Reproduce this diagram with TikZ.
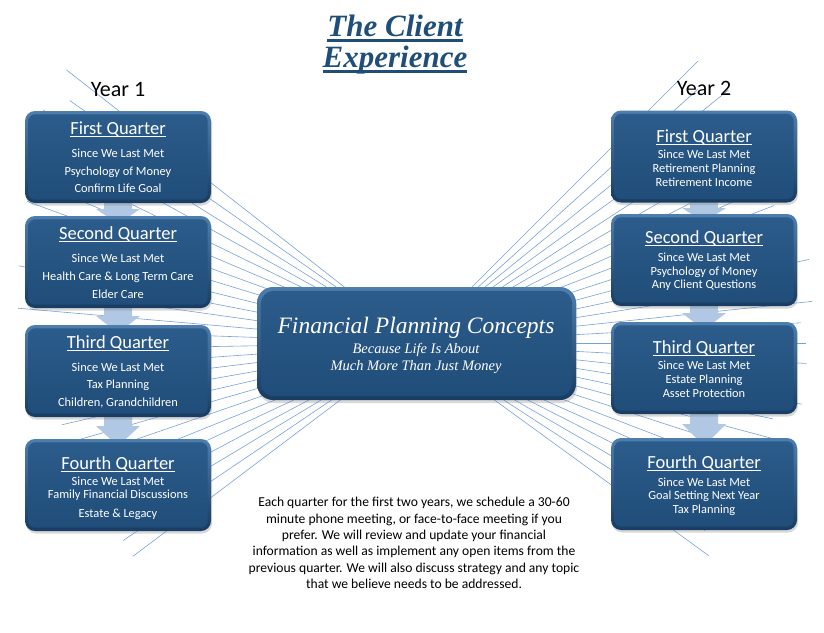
\documentclass[tikz,border=0pt]{standalone}
\usepackage{fontspec}
\setmainfont{Carlito}
\newfontfamily\serifface{Liberation Serif}
\usetikzlibrary{shadows,calc}
\definecolor{titleblue}{RGB}{31,78,121}
\definecolor{rayblue}{RGB}{120,162,214}
\definecolor{rimtop}{RGB}{78,126,174}
\definecolor{rimbot}{RGB}{24,60,98}
\definecolor{facetop}{RGB}{44,92,139}
\definecolor{facebot}{RGB}{32,77,121}
\definecolor{arrowblue}{RGB}{176,200,228}
\newcommand\hul[1]{\setbox0=\hbox{#1}\leavevmode\rlap{\rule[-3pt]{\wd0}{0.8pt}}\box0}
\newcommand\tul[1]{\setbox0=\hbox{#1}\leavevmode\rlap{\rule[-6pt]{\wd0}{2.7pt}}\box0}
\tikzset{
  qbox/.style={rounded corners=10pt, minimum width=186pt, minimum height=92pt, inner sep=0pt,
    top color=rimtop, bottom color=rimbot,
    drop shadow={opacity=0.3, shadow xshift=1pt, shadow yshift=-2.5pt}},
  cbox/.style={rounded corners=16pt, minimum width=319pt, minimum height=113pt, inner sep=0pt,
    top color=rimtop, bottom color=rimbot,
    drop shadow={opacity=0.3, shadow xshift=1pt, shadow yshift=-3pt}},
  face/.style={top color=facetop, bottom color=facebot},
  qhead/.style={text=white, font=\fontsize{18.5}{20}\selectfont, inner sep=0pt, anchor=base},
  qitem/.style={text=white, font=\fontsize{12.4}{14}\selectfont, inner sep=0pt, anchor=base},
  yearlab/.style={font=\fontsize{22}{24}\selectfont, inner sep=0pt, anchor=base},
  ray/.style={draw=rayblue, line width=0.6pt},
}
\newcommand\qboxat[3]{%
  \node[qbox] (#1) at (#2,#3) {};
  \shade[face, rounded corners=7pt] ($(#1.north west)+(3.5,3.5)$) rectangle ($(#1.south east)+(-3.5,-3.5)$);
}
\newcommand\downarr[4]{%
  \fill[arrowblue] ({#1-14},#2) -- ({#1+14},#2) -- ({#1+14},#3) -- ({#1+22},#3) -- (#1,#4)
    -- ({#1-22},#3) -- ({#1-14},#3) -- cycle;
}
\begin{document}
\begin{tikzpicture}[x=1pt,y=-1pt]
\useasboundingbox (0,0) rectangle (824,632);
\fill[white] (0,0) rectangle (824,632);
\coordinate (O) at (416,343);
% rays
\begin{scope}
  \clip (0,0) rectangle (824,632);
  \foreach \a in {143,146,...,218} {
    \pgfmathsetmacro\R{((\a>180) ? (380+(\a-180)*1.5) : (380-(180-\a)*0.8)) + 12*sin(\a*53)}
    \draw[ray] (O) -- ++(\a:\R);
  }
  \foreach \a in {-45,-42,...,36} {
    \pgfmathsetmacro\R{((\a<0) ? 390 : (390-\a*1.1)) + 12*sin(\a*53)}
    \draw[ray] (O) -- ++(\a:\R);
  }
\end{scope}
% arrows between quarters
\downarr{118}{198}{209}{224}
\downarr{118}{303}{316}{333}
\downarr{118}{412}{426}{446}
\downarr{704}{198}{208}{222}
\downarr{704}{301}{313}{330}
\downarr{704}{409}{424}{446}
% title
\node[text=titleblue, font=\serifface\bfseries\itshape\fontsize{31}{34}\selectfont, inner sep=0pt, anchor=base] (t1) at (395,36) {\tul{The Client}};
\node[text=titleblue, font=\serifface\bfseries\itshape\fontsize{31}{34}\selectfont, inner sep=0pt, anchor=base] (t2) at (395,67) {\tul{Experience}};
% year labels
\node[yearlab] (y1) at (118,96) {Year 1};
\node[yearlab] (y2) at (704,95) {Year 2};
% left column
\qboxat{L1}{118}{157}
\qboxat{L2}{118}{262}
\qboxat{L3}{118}{371}
\qboxat{L4}{118}{485}
\node[qhead] (L1h) at (118,134) {\hul{First Quarter}};
\node[qitem] (L1a) at (118,157) {Since We Last Met};
\node[qitem] (L1b) at (118,175) {Psychology of Money};
\node[qitem] (L1c) at (118,192) {Confirm Life Goal};
\node[qhead] (L2h) at (118,239) {\hul{Second Quarter}};
\node[qitem] (L2a) at (118,262) {Since We Last Met};
\node[qitem] (L2b) at (118,280) {Health Care \& Long Term Care};
\node[qitem] (L2c) at (118,298) {Elder Care};
\node[qhead] (L3h) at (118,348) {\hul{Third Quarter}};
\node[qitem] (L3a) at (118,371) {Since We Last Met};
\node[qitem] (L3b) at (118,388) {Tax Planning};
\node[qitem] (L3c) at (118,406) {Children, Grandchildren};
\node[qhead] (L4h) at (118,469) {\hul{Fourth Quarter}};
\node[qitem] (L4a) at (118,485) {Since We Last Met};
\node[qitem] (L4b) at (118,498) {Family Financial Discussions};
\node[qitem] (L4c) at (118,517) {Estate \& Legacy};
% right column
\qboxat{R1}{704}{156.5}
\qboxat{R2}{704}{260}
\qboxat{R3}{704}{368}
\qboxat{R4}{704}{484}
\node[qhead] (R1h) at (704,142) {\hul{First Quarter}};
\node[qitem] (R1a) at (704,158) {Since We Last Met};
\node[qitem] (R1b) at (704,172) {Retirement Planning};
\node[qitem] (R1c) at (704,186) {Retirement Income};
\node[qhead] (R2h) at (704,243) {\hul{Second Quarter}};
\node[qitem] (R2a) at (704,261) {Since We Last Met};
\node[qitem] (R2b) at (704,275) {Psychology of Money};
\node[qitem] (R2c) at (704,288) {Any Client Questions};
\node[qhead] (R3h) at (704,353) {\hul{Third Quarter}};
\node[qitem] (R3a) at (704,369) {Since We Last Met};
\node[qitem] (R3b) at (704,383) {Estate Planning};
\node[qitem] (R3c) at (704,397) {Asset Protection};
\node[qhead] (R4h) at (704,468) {\hul{Fourth Quarter}};
\node[qitem] (R4a) at (704,486) {Since We Last Met};
\node[qitem] (R4b) at (704,499) {Goal Setting Next Year};
\node[qitem] (R4c) at (704,513) {Tax Planning};
% center box
\node[cbox] (C) at (416.5,343.5) {};
\shade[face, rounded corners=13pt] ($(C.north west)+(4,4)$) rectangle ($(C.south east)+(-4,-4)$);
\node[text=white, font=\serifface\itshape\fontsize{23.5}{26}\selectfont, inner sep=0pt, anchor=base] (Ct) at (416,333) {Financial Planning Concepts};
\node[text=white, font=\serifface\itshape\fontsize{14.5}{16}\selectfont, inner sep=0pt, anchor=base] (Cs1) at (416,353) {Because Life Is About};
\node[text=white, font=\serifface\itshape\fontsize{14.5}{16}\selectfont, inner sep=0pt, anchor=base] (Cs2) at (416,370) {Much More Than Just Money};
% bottom paragraph
\node[font=\fontsize{13.6}{16.4}\selectfont, align=center, inner sep=0pt, anchor=north] (P) at (414,497) {Each quarter for the first two years, we schedule a 30-60\\
minute phone meeting, or face-to-face meeting if you\\
prefer. We will review and update your financial\\
information as well as implement any open items from the\\
previous quarter. We will also discuss strategy and any topic\\
that we believe needs to be addressed.};
\end{tikzpicture}
\end{document}
